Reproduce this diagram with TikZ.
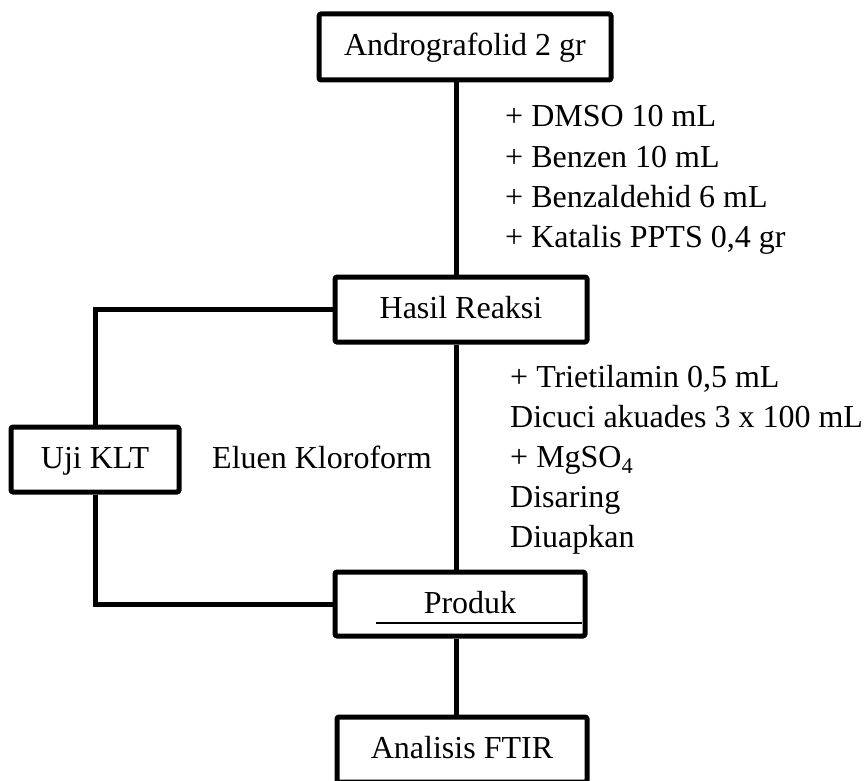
\documentclass[tikz,border=0pt]{standalone}
\usepackage{fontspec}
\setmainfont{Liberation Serif}
\begin{document}
\begin{tikzpicture}[x=1pt,y=-1pt,
  every node/.style={font=\fontsize{32}{40}\selectfont},
  box/.style={draw, line width=5pt, line join=round, rounded corners=1.5pt, fill=white,
              inner sep=0pt, text height=22pt, text depth=5pt},
  txt/.style={inner sep=0pt, anchor=base west},
  wire/.style={line width=5pt}]
\fill[white] (0,0) rectangle (867,781);
\useasboundingbox (0,0) rectangle (867,781);
\coordinate (sp) at (456,0);

% boxes
\node[box, minimum width=292pt, minimum height=66pt] (A) at (465,47) {Andrografolid 2 gr};
\node[box, minimum width=252pt, minimum height=65pt] (H) at (461,309.5) {Hasil Reaksi};
\node[box, minimum width=168pt, minimum height=65pt] (U) at (95,459.5) {Uji KLT};
\node[box, minimum width=250pt, minimum height=64pt] (P) at (460,604) {};
\node[inner sep=0pt, anchor=base] (Pt) at (470,613) {Produk};
\node[box, minimum width=250pt, minimum height=65pt] (F) at (462,749.5) {Analisis FTIR};

% connectors
\draw[wire] (A.south -| sp) -- (H.north -| sp);
\draw[wire] (H.south -| sp) -- (P.north -| sp);
\draw[wire] (P.south -| sp) -- (F.north -| sp);
\draw[wire] (H.west) -| (U.north);
\draw[wire] (U.south) |- (P.west);

% underline inside Produk box
\coordinate (ul1) at (376,623);
\coordinate (ul2) at (582,623);
\draw[line width=2.5pt] (ul1) -- (ul2);

% labels
\node[txt] (e1) at (505,127) {+ DMSO 10 mL};
\node[txt] (e2) at (505,167.5) {+ Benzen 10 mL};
\node[txt] (e3) at (505,207.5) {+ Benzaldehid 6 mL};
\node[txt] (e4) at (505,247) {+ Katalis PPTS 0,4 gr};

\node[txt] (f1) at (510,387) {+ Trietilamin 0,5 mL};
\node[txt] (f2) at (510,427.5) {Dicuci akuades 3 x 100 mL};
\node[txt] (f3) at (510,467) {+ MgSO\textsubscript{4}};
\node[txt] (f4) at (510,507) {Disaring};
\node[txt] (f5) at (510,547) {Diuapkan};

\node[txt] (el) at (212,468) {Eluen Kloroform};
\end{tikzpicture}
\end{document}
